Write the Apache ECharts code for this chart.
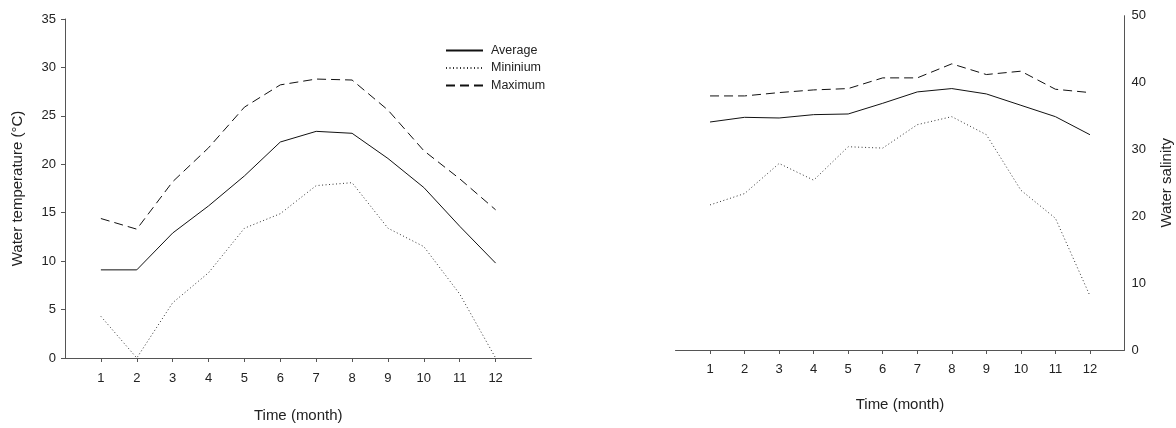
<!DOCTYPE html>
<html>
<head>
<meta charset="utf-8">
<script src="https://cdn.jsdelivr.net/npm/echarts@6/dist/echarts.min.js"></script>
<style>
html,body{margin:0;padding:0;background:#fff;}
#c{width:1176px;height:428px;}
</style>
</head>
<body>
<div id="c"></div>
<script>
var months = [1,2,3,4,5,6,7,8,9,10,11,12];
var tempAvg = [9.1, 9.1, 12.9, 15.7, 18.8, 22.3, 23.4, 23.2, 20.6, 17.6, 13.6, 9.8];
var tempMin = [4.3, 0.0, 5.7, 8.8, 13.4, 14.9, 17.8, 18.1, 13.4, 11.5, 6.6, 0.0];
var tempMax = [14.4, 13.3, 18.2, 21.7, 25.9, 28.2, 28.8, 28.7, 25.6, 21.4, 18.5, 15.3];
var salAvg = [34.1, 34.8, 34.7, 35.2, 35.3, 36.9, 38.6, 39.1, 38.3, 36.6, 34.9, 32.2];
var salMin = [21.7, 23.4, 27.9, 25.4, 30.4, 30.2, 33.7, 34.9, 32.2, 23.9, 19.7, 8.1];
var salMax = [38.0, 38.0, 38.5, 38.9, 39.1, 40.7, 40.7, 42.8, 41.2, 41.7, 39.0, 38.5];
var seriesNames = ['Average', 'Mininium', 'Maximum'];
var xTitle = 'Time (month)';
var yTitleLeft = 'Water temperature (\u00B0C)';
var yTitleRight = 'Water salinity';

function pairs(arr){ return months.map(function(m,i){ return [m, arr[i]]; }); }

var font = 'Liberation Sans, Arial, sans-serif';
var txt = '#222';
var axisCol = '#555';
var styles = [
  {color:'#111', width:1, type:'solid'},
  {color:'#333', width:1, type:[1,2.5]},
  {color:'#111', width:1, type:[9,5]}
];

function xAxis(gi, nameGap, margin){
  return {
    type:'value', gridIndex:gi, min:0, max:13, interval:1,
    name: xTitle, nameLocation:'middle', nameGap:nameGap,
    nameTextStyle:{fontFamily:font, fontSize:15, color:txt},
    axisLine:{show:true, onZero:false, lineStyle:{color:axisCol, width:1}},
    axisTick:{show:true, length:4, inside:false, customValues:months, lineStyle:{color:axisCol}},
    axisLabel:{customValues:months, margin:margin, fontFamily:font, fontSize:13, color:txt},
    splitLine:{show:false}
  };
}

var chart = echarts.init(document.getElementById('c'), null, {renderer:'canvas'});
var leftData = [tempAvg, tempMin, tempMax];
var rightData = [salAvg, salMin, salMax];
var series = [];
for (var i=0;i<3;i++){
  series.push({name:seriesNames[i], type:'line', xAxisIndex:0, yAxisIndex:0, data:pairs(leftData[i]),
    symbol:'none', showSymbol:false, lineStyle:styles[i], itemStyle:{color:styles[i].color}, silent:true, animation:false});
}
for (var j=0;j<3;j++){
  series.push({name:seriesNames[j], type:'line', xAxisIndex:1, yAxisIndex:1, data:pairs(rightData[j]),
    symbol:'none', showSymbol:false, lineStyle:styles[j], itemStyle:{color:styles[j].color}, silent:true, animation:false});
}

chart.setOption({
  animation:false,
  backgroundColor:'#fff',
  textStyle:{fontFamily:font},
  legend:{
    data:seriesNames, orient:'vertical', left:440, top:39,
    itemWidth:37, itemHeight:10, itemGap:4.5,
    itemStyle:{color:'transparent', borderWidth:0, opacity:0},
    textStyle:{fontFamily:font, fontSize:12.5, color:txt, padding:[0,0,0,3]},
    selectedMode:false
  },
  grid:[
    {left:65, top:19, width:466.5, height:346.7},
    {left:675.5, top:15.7, width:449, height:334.3}
  ],
  xAxis:[ xAxis(0, 50, 14), xAxis(1, 47, 13) ],
  yAxis:[
    {type:'value', gridIndex:0, min:0, max:35, interval:5,
     name:yTitleLeft, nameLocation:'middle', nameGap:40,
     nameTextStyle:{fontFamily:font, fontSize:15, color:txt},
     axisLine:{show:true, onZero:false, lineStyle:{color:axisCol, width:1}},
     axisTick:{show:true, length:4, lineStyle:{color:axisCol}},
     axisLabel:{margin:9, fontFamily:font, fontSize:13, color:txt},
     splitLine:{show:false}},
    {type:'value', gridIndex:1, position:'right', min:0, max:50, interval:10,
     name:yTitleRight, nameLocation:'middle', nameGap:35, nameRotate:90,
     nameTextStyle:{fontFamily:font, fontSize:15, color:txt},
     axisLine:{show:true, onZero:false, lineStyle:{color:axisCol, width:1}},
     axisTick:{show:false},
     axisLabel:{margin:7, fontFamily:font, fontSize:13, color:txt},
     splitLine:{show:false}}
  ],
  series:series
});
</script>
</body>
</html>
